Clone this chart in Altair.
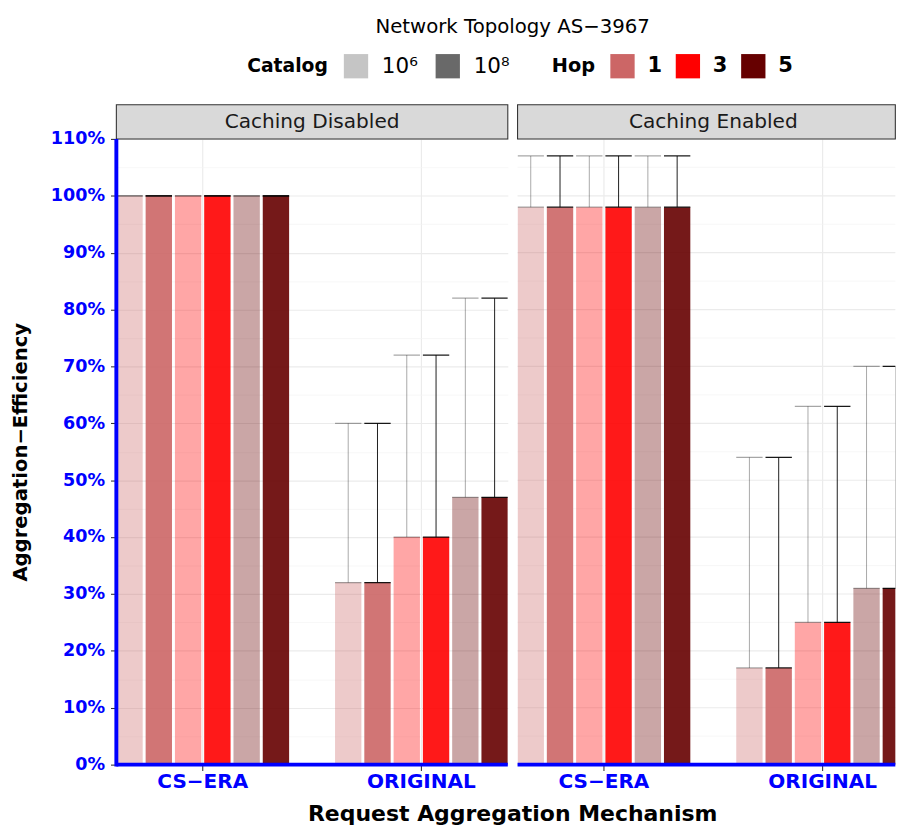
import altair as alt
import pandas as pd

# ---------------- data ----------------
caching = ["Caching Disabled", "Caching Enabled"]
mechanisms = ["CS−ERA", "ORIGINAL"]
hops = ["1", "3", "5"]
catalogs = ["10⁶", "10⁸"]

# mean efficiency (%) and upper error bound (%), per hop 1, 3, 5
dis_cs_mean = [100, 100, 100]
dis_cs_upper = [100, 100, 100]
dis_or_mean = [32, 40, 47]
dis_or_upper = [60, 72, 82]
en_cs_mean = [98, 98, 98]
en_cs_upper = [107, 107, 107]
en_or_mean = [17, 25, 31]
en_or_upper = [54, 63, 70]

y_ticks = [0, 5, 10, 15, 20, 25, 30, 35, 40, 45, 50, 55, 60, 65, 70, 75, 80, 85, 90, 95, 100, 105, 110]

chart_title = "Network Topology AS−3967"
x_title = "Request Aggregation Mechanism"
y_title = "Aggregation−Efficiency"

hop_colors = ["#CC6666", "#FF0000", "#660000"]
catalog_alpha = [0.35, 0.9]

series = [
    ("Caching Disabled", "CS−ERA", dis_cs_mean, dis_cs_upper),
    ("Caching Disabled", "ORIGINAL", dis_or_mean, dis_or_upper),
    ("Caching Enabled", "CS−ERA", en_cs_mean, en_cs_upper),
    ("Caching Enabled", "ORIGINAL", en_or_mean, en_or_upper),
]
rows = []
for cach, mech, means, uppers in series:
    for h, m, u in zip(hops, means, uppers):
        for c in catalogs:
            rows.append({"caching": cach, "mechanism": mech, "hop": h,
                         "catalog": c, "grp": h + "|" + c, "mean": m, "upper": u})
df = pd.DataFrame(rows)
grp_order = [h + "|" + c for h in hops for c in catalogs]
grid_df = pd.DataFrame({"v": y_ticks})

FONT = "DejaVu Sans"
W, H = 401, 641          # full panel geometry
W_RIGHT = 387            # right panel is cut by the page edge, as in the reference
GAP = 10
BLUE = "#0000FF"

major = "datum.value % 10 === 0"

color_enc = alt.Color("hop:N", sort=hops, scale=alt.Scale(domain=hops, range=hop_colors),
                      legend=alt.Legend(title="Hop", orient="none", direction="horizontal",
                                        legendX=446, legendY=-87, titleOrient="left",
                                        symbolType="square", symbolSize=620, symbolStrokeWidth=0,
                                        symbolOpacity=1,
                                        labelFont=FONT, labelFontWeight="bold", labelFontSize=21.5,
                                        titleFont=FONT, titleFontWeight="bold", titleFontSize=19.8,
                                        labelOffset=13, columnPadding=14, titlePadding=15))
op_enc = alt.Opacity("catalog:N", sort=catalogs,
                     scale=alt.Scale(domain=catalogs, range=catalog_alpha),
                     legend=alt.Legend(title="Catalog", orient="none", direction="horizontal",
                                       legendX=134, legendY=-87, titleOrient="left",
                                       symbolType="square", symbolSize=620, symbolStrokeWidth=0,
                                       symbolFillColor="#595959",
                                       labelFont=FONT, labelFontWeight="normal", labelFontSize=22,
                                       titleFont=FONT, titleFontWeight="bold", titleFontSize=19.2,
                                       labelOffset=14, columnPadding=18, titlePadding=16))
err_op = alt.Opacity("catalog:N", sort=catalogs,
                     scale=alt.Scale(domain=catalogs, range=catalog_alpha), legend=None)


def panel(cach, width, left):
    data = df[df["caching"] == cach]
    one = pd.DataFrame({"caching": [cach]})

    xscale = alt.Scale(paddingInner=0.21, paddingOuter=0, range=[0, W])
    x_enc = alt.X("mechanism:N", sort=mechanisms, scale=xscale,
                  axis=alt.Axis(title=None, labelAngle=0, labelColor=BLUE, labelFont=FONT,
                                labelFontWeight="bold", labelFontSize=20.5, labelPadding=1,
                                tickColor="#333333", tickSize=6, tickWidth=1.1,
                                domain=False,
                                grid=True, gridColor="#EBEBEB", gridWidth=1.2,
                                bandPosition=0.5))
    xoff = alt.XOffset("grp:N", sort=grp_order,
                       scale=alt.Scale(paddingInner=0.1, paddingOuter=0))
    y_scale = alt.Scale(domain=[0, 110], nice=False, zero=True)
    if left:
        y_axis = alt.Axis(title=y_title, values=y_ticks,
                          labelExpr="datum.value % 10 === 0 ? datum.value + '%' : ''",
                          labelColor=BLUE, labelFont=FONT, labelFontWeight="bold",
                          labelFontSize=18, labelPadding=6, labelOverlap=False,
                          tickColor="#333333", tickSize=6, tickWidth=1.1,
                          tickOpacity={"condition": {"test": major, "value": 1}, "value": 0},
                          gridColor={"condition": {"test": major, "value": "#EBEBEB"}, "value": "#F3F3F3"},
                          gridWidth={"condition": {"test": major, "value": 1.2}, "value": 0.7},
                          domain=False,
                          titleFont=FONT, titleFontSize=20.1, titleFontWeight="bold",
                          titleColor="black", titlePadding=20)
    else:
        y_axis = None

    layers = []
    if not left:
        # horizontal grid drawn as rules, so it stops at the (cut) panel edge
        layers.append(alt.Chart(grid_df).mark_rule().encode(
            y=alt.Y("v:Q", scale=y_scale, axis=None),
            x=alt.value(0), x2=alt.value("width"),
            color=alt.condition("datum.v % 10 === 0", alt.value("#EBEBEB"), alt.value("#F3F3F3")),
            strokeWidth=alt.condition("datum.v % 10 === 0", alt.value(1.2), alt.value(0.7))))

    bars = alt.Chart(data).mark_bar(clip=True).encode(
        x=x_enc, xOffset=xoff,
        y=alt.Y("mean:Q", scale=y_scale, axis=y_axis),
        color=color_enc, opacity=op_enc)
    rule = alt.Chart(data).mark_rule(color="black", strokeWidth=1, clip=True).encode(
        x=x_enc, xOffset=xoff, y=alt.Y("mean:Q", scale=y_scale, axis=y_axis), y2="upper:Q",
        opacity=err_op)
    cap_top = alt.Chart(data).mark_tick(color="black", size=27, thickness=1.3, clip=True).encode(
        x=x_enc, xOffset=xoff, y=alt.Y("upper:Q", scale=y_scale, axis=y_axis), opacity=err_op)
    cap_bot = alt.Chart(data).mark_tick(color="black", size=27, thickness=1.3, clip=True).encode(
        x=x_enc, xOffset=xoff, y=alt.Y("mean:Q", scale=y_scale, axis=y_axis), opacity=err_op)

    strip = alt.Chart(one).mark_rect(fill="#D9D9D9", stroke="#333333", strokeWidth=1.1).encode(
        x=alt.value(0), x2=alt.value("width"), y=alt.value(-35), y2=alt.value(0))
    strip_text = alt.Chart(one).mark_text(
        font=FONT, fontSize=20.6, color="#1A1A1A", baseline="middle", align="center").encode(
        text="caching:N", x=alt.value(W / 2), y=alt.value(-17.5))
    xdom = alt.Chart(one).mark_rule(color=BLUE, strokeWidth=4).encode(
        x=alt.value(0), x2=alt.value("width"), y=alt.value("height"))
    layers += [bars, rule, cap_top, cap_bot, strip, strip_text, xdom]
    if left:
        ydom = alt.Chart(one).mark_rule(color=BLUE, strokeWidth=4).encode(
            x=alt.value(0), y=alt.value(0), y2=alt.value(H + 2))
        t1 = alt.Chart(pd.DataFrame({"t": [chart_title]})).mark_text(
            font=FONT, fontSize=20.2, color="black", baseline="top", align="center").encode(
            text="t:N", x=alt.value(W + GAP / 2), y=alt.value(-124))
        t2 = alt.Chart(pd.DataFrame({"t": [x_title]})).mark_text(
            font=FONT, fontSize=22.5, fontWeight="bold", color="black",
            baseline="middle", align="center").encode(
            text="t:N", x=alt.value(W + GAP / 2), y=alt.value(H + 51))
        layers += [ydom, t1, t2]
    return alt.layer(*layers).properties(width=width, height=H)


chart = alt.hconcat(
    panel("Caching Disabled", W, True),
    panel("Caching Enabled", W_RIGHT, False),
    spacing=GAP, bounds="flush",
).properties(
    padding={"left": 3, "top": 0, "right": 0, "bottom": 0},
).configure_view(stroke=None)

chart.save("out.html", embed_options={"renderer": "svg", "actions": False})
